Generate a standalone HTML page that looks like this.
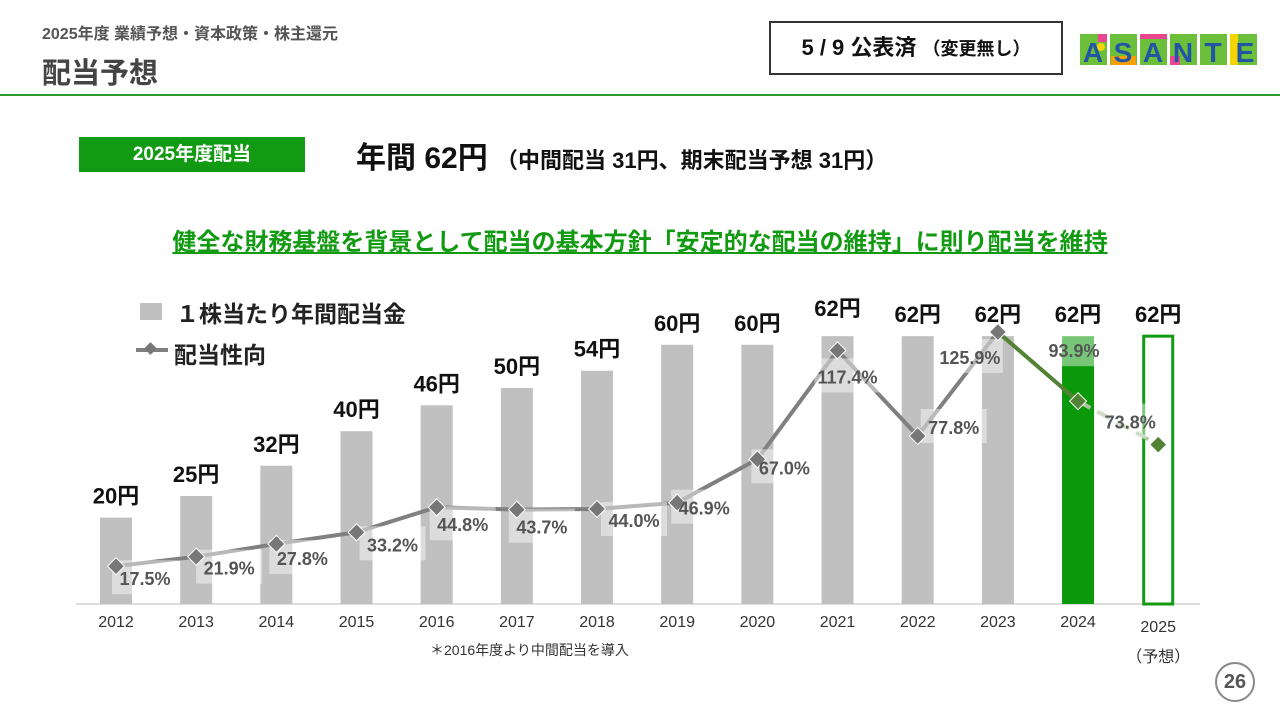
<!DOCTYPE html>
<html><head><meta charset="utf-8">
<style>
body{margin:0;width:1280px;height:720px;background:#fff;font-family:"Liberation Sans","Noto Sans CJK JP",sans-serif;position:relative;overflow:hidden}
.a{position:absolute}
</style></head><body>
<div class="a" style="left:42px;top:20px;font-size:16px;color:#555;font-weight:bold">2025年度 業績予想・資本政策・株主還元</div>
<div class="a" style="left:42px;top:50px;font-size:29px;color:#444;font-weight:bold">配当予想</div>
<div class="a" style="left:0;top:94px;width:1280px;height:2px;background:#2e9a2e"></div>
<div class="a" style="left:769px;top:21px;width:294px;height:54px;border:2px solid #333;box-sizing:border-box;text-align:center;line-height:50px;font-size:22px;font-weight:bold;color:#111">5 / 9 公表済 <span style="font-size:18px">（変更無し）</span></div>
<svg class="a" style="left:1080px;top:32px" width="180" height="36">
<g>
<rect x="0" y="2" width="27" height="31" fill="#6cbf3a"/><rect x="30" y="2" width="27" height="31" fill="#6cbf3a"/><rect x="60" y="2" width="27" height="31" fill="#6cbf3a"/><rect x="90" y="2" width="27" height="31" fill="#6cbf3a"/><rect x="120" y="2" width="27" height="31" fill="#6cbf3a"/><rect x="150" y="2" width="27" height="31" fill="#6cbf3a"/>
<rect x="18" y="2" width="9" height="8" fill="#e8468f"/><circle cx="21" cy="15" r="4" fill="#f5d400"/><rect x="31" y="24" width="25" height="9" fill="#f5a000"/><rect x="60" y="2" width="27" height="5" fill="#e8468f"/><rect x="90" y="24" width="10" height="9" fill="#e8468f"/><rect x="150" y="2" width="8" height="31" fill="#f5d400"/>
</g>
<text x="13" y="30" font-size="28" font-weight="bold" fill="#2156a5" text-anchor="middle">A</text>
<text x="43" y="30" font-size="28" font-weight="bold" fill="#2156a5" text-anchor="middle">S</text>
<text x="73" y="30" font-size="28" font-weight="bold" fill="#2156a5" text-anchor="middle">A</text>
<text x="103" y="30" font-size="28" font-weight="bold" fill="#2156a5" text-anchor="middle">N</text>
<text x="133" y="30" font-size="28" font-weight="bold" fill="#2156a5" text-anchor="middle">T</text>
<text x="165" y="30" font-size="28" font-weight="bold" fill="#2156a5" text-anchor="middle">E</text>
</svg>
<div class="a" style="left:79px;top:137px;width:226px;height:35px;background:#139a13;color:#fff;font-size:19px;font-weight:bold;text-align:center;line-height:35px">2025年度配当</div>
<div class="a" style="left:356px;top:133px;font-size:30px;font-weight:bold;color:#111">年間 62円 <span style="font-size:22px">（中間配当 31円、期末配当予想 31円）</span></div>
<div class="a" style="left:0;width:1280px;top:222px;text-align:center;font-size:24px;font-weight:bold;color:#139a13;text-decoration:underline">健全な財務基盤を背景として配当の基本方針「安定的な配当の維持」に則り配当を維持</div>
<div class="a" style="left:140px;top:303px;width:22px;height:17px;background:#c0c0c0"></div>
<div class="a" style="left:176px;top:295px;font-size:23px;font-weight:bold;color:#222">１株当たり年間配当金</div>
<svg class="a" style="left:134px;top:340px" width="36" height="20"><line x1="2" y1="10" x2="34" y2="10" stroke="#808080" stroke-width="4"/><rect x="12" y="4" width="9" height="9" fill="#777" transform="rotate(45 16.5 8.5)"/></svg>
<div class="a" style="left:174px;top:336px;font-size:23px;font-weight:bold;color:#222">配当性向</div>
<svg id="chart" class="a" style="left:0;top:0" width="1280" height="720"></svg>
<div class="a" style="left:430px;top:640px;font-size:14px;color:#333">＊2016年度より中間配当を導入</div>
<div class="a" style="left:1215px;top:662px;width:40px;height:40px;border:2px solid #888;border-radius:50%;box-sizing:border-box;text-align:center;line-height:36px;font-size:20px;font-weight:bold;color:#555">26</div>
<script>
const years=["2012","2013","2014","2015","2016","2017","2018","2019","2020","2021","2022","2023","2024","2025"];
const dividends=[20,25,32,40,46,50,54,60,60,62,62,62,62,62];
const payout=[17.5,21.9,27.8,33.2,44.8,43.7,44.0,46.9,67.0,117.4,77.8,125.9,93.9,73.8];
const labelDx=[29,33,26,36,26,25,37,27,27,10,36,-28,-4,-28];
const labelDy=[13,12,15,13,18,18,12,6,9,27,-8,26,-50,-22];
const svg=document.getElementById('chart');const NS='http://www.w3.org/2000/svg';
const x=i=>116+i*80.17, yDiv=v=>604-v*4.32, yPct=v=>604-v*2.16, BW=32;
function el(t,a){const e=document.createElementNS(NS,t);for(const k in a)e.setAttribute(k,a[k]);svg.appendChild(e);return e;}
el('line',{x1:76,y1:604,x2:1200,y2:604,stroke:'#bbb','stroke-width':1});
years.forEach((yr,i)=>{
 let b;
 if(i===13){b=el('rect',{x:x(i)-BW/2+1.5,y:yDiv(dividends[i]),width:BW-3,height:604-yDiv(dividends[i]),fill:'none',stroke:'#139a13','stroke-width':3});}
 else b=el('rect',{x:x(i)-BW/2,y:yDiv(dividends[i]),width:BW,height:604-yDiv(dividends[i]),fill:i===12?'#0a990a':'#c0c0c0'});
 
 
 const t=el('text',{x:x(i),y:yDiv(dividends[i])-(i===9?20:14),'font-size':22,'font-weight':'bold',fill:'#111','text-anchor':'middle'});t.textContent=dividends[i]+'円';
 
 
 const xl=el('text',{x:x(i),y:627,'font-size':16,fill:'#333','text-anchor':'middle'});xl.textContent=yr;
 
 
 if(i===13){xl.setAttribute('y',632);const p=el('text',{x:x(i),y:662,'font-size':16,fill:'#333','text-anchor':'middle'});p.textContent='（予想）';
 
 }
});
for(let i=0;i<13;i++){
 const a={x1:x(i),y1:yPct(payout[i]),x2:x(i+1),y2:yPct(payout[i+1]),'stroke-width':4};
 a.stroke=i<11?'#808080':(i===11?'#548235':'#a9c79a');
 if(i===12)a['stroke-dasharray']='14 8';
 const l=el('line',a);
 
 
}
payout.forEach((p,i)=>{
 const cx=x(i),cy=yPct(p),lx=cx+labelDx[i],ly=cy+labelDy[i];
 const bx=el('rect',{x:lx-33,y:ly-19,width:66,height:34,fill:'#fff','fill-opacity':0.45});
 
 
 const m=el('rect',{x:cx-6,y:cy-6,width:12,height:12,fill:i>=12?'#548235':'#777',stroke:'#fff','stroke-width':1,transform:`rotate(45 ${cx} ${cy})`});
 
 
 const t=el('text',{x:lx,y:ly+6,'font-size':18,'font-weight':'bold',fill:'#555','text-anchor':'middle'});t.textContent=p.toFixed(1)+'%';
 
 
});
</script>
</body></html>
